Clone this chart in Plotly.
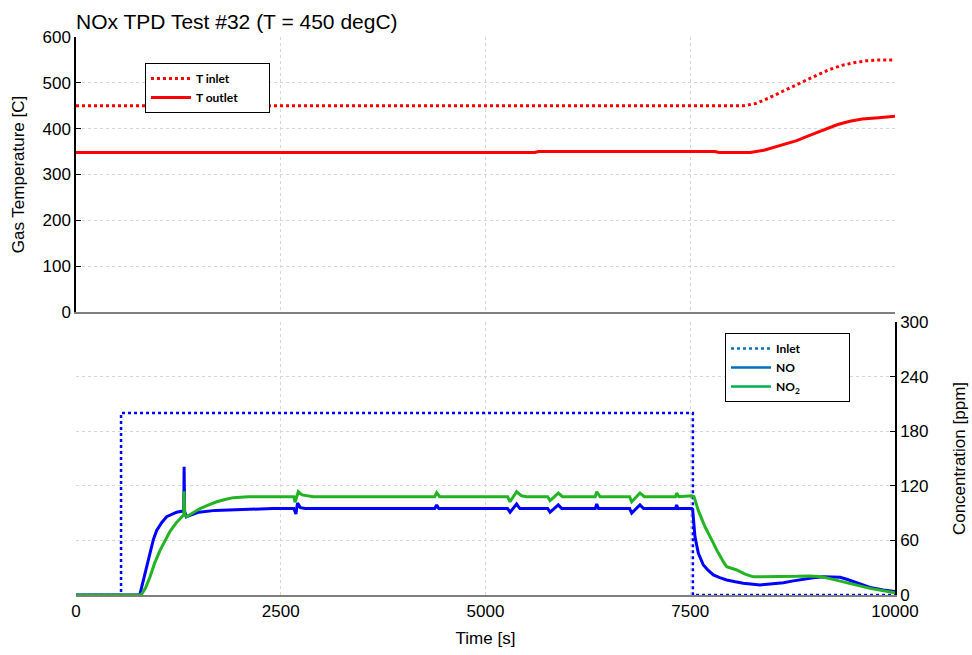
import plotly.graph_objects as go

# ---------------- data ----------------
t_inlet_time = [0, 8150, 8300, 8450, 8600, 8750, 8900, 9050, 9200, 9350, 9500, 9650, 9800, 10000]
t_inlet_vals = [450, 450, 455, 466, 479, 492, 504, 517, 529, 538, 544, 548, 550, 550]

t_outlet_time = [0, 5600, 5650, 7800, 7850, 8230, 8400, 8600, 8800, 8950, 9100, 9300, 9450, 9600, 9800, 10000]
t_outlet_vals = [348, 348, 350, 350, 348, 348, 353, 363, 374, 385, 396, 409, 416, 421, 424, 427]

inlet_time = [0, 550, 550, 7532, 7532, 10000]
inlet_vals = [0, 0, 200, 200, 0, 0]

no_time = [0, 760, 781, 822, 860, 904, 945, 985, 1050, 1107, 1170, 1229, 1290, 1316, 1320, 1326,
           1345, 1400, 1500, 1700, 2000, 2400, 2660, 2685, 2705, 2740, 2800, 3500, 4380, 4404,
           4430, 5000, 5270, 5300, 5380, 5420, 5760, 5788, 5889, 5930, 6340, 6358, 6380, 6760,
           6785, 6886, 6930, 7320, 7334, 7350, 7518, 7529, 7558, 7598, 7660, 7720, 7782, 7860,
           7945, 8050, 8148, 8352, 8500, 8637, 8760, 8881, 9000, 9125, 9230, 9329, 9420, 9491,
           9600, 9695, 9857, 10000]
no_vals = [0, 0, 1, 16, 33, 49, 61, 71, 80, 86, 89, 91, 92, 92, 141, 92,
           86, 88, 91, 93, 94, 95, 95, 89, 101, 96, 95, 95, 95, 99,
           95, 95, 95, 91, 100, 95, 95, 91, 99, 95, 95, 100, 95, 95,
           90, 99, 95, 95, 99, 95, 95, 94, 64, 46, 33, 27, 22, 19,
           16.5, 14.5, 13, 11, 12, 13.5, 15.5, 17.6, 19, 20, 20, 19.5, 17, 14.6,
           11, 8.4, 5.5, 3.7]

no2_time = [0, 780, 802, 850, 904, 960, 1026, 1090, 1148, 1230, 1290, 1316, 1320, 1326, 1351,
            1420, 1514, 1620, 1718, 1820, 1921, 2100, 2328, 2660, 2674, 2714, 2760, 2898, 3500,
            4380, 4404, 4440, 5000, 5270, 5299, 5380, 5440, 5503, 5760, 5788, 5889, 5940, 6340,
            6358, 6400, 6760, 6785, 6886, 6940, 7320, 7334, 7360, 7518, 7546, 7598, 7680, 7782,
            7823, 7904, 7945, 8067, 8170, 8270, 8450, 8637, 8800, 8962, 9100, 9206, 9330, 9451,
            9570, 9695, 9850, 10000]
no2_vals = [0, 0, 1, 8, 20, 35, 49, 60, 70, 80, 86, 88, 114, 88, 86,
            90, 95, 99, 102.5, 105, 107, 108, 108, 108, 102, 113.5, 110, 108, 108,
            108, 112.5, 108, 108, 108, 102.5, 113.5, 109, 108, 108, 103.6, 112, 108, 108,
            113.5, 108, 108, 102.5, 112, 108, 108, 112, 108, 109, 108, 93, 75, 57,
            49.5, 36.6, 31, 27.5, 23, 20, 20, 20, 20.5, 21, 20, 18, 15.5, 12.8,
            10, 7.3, 4.5, 2.5]

x_ticks = [0, 2500, 5000, 7500, 10000]
x_tick_text = ["0", "2500", "5000", "7500", "10000"]
temp_ticks = [0, 100, 200, 300, 400, 500, 600]
conc_ticks = [0, 60, 120, 180, 240, 300]

# ---------------- styles ----------------
FONT = "Liberation Sans, Arial, sans-serif"
RED = "#ff0000"
BLUE = "#0000ff"
GREEN = "#22b422"
GRID = "#d6d6d6"
PAD = "&nbsp;" * 9  # widen legend boxes like the reference

fig = go.Figure()

fig.add_trace(go.Scatter(x=t_inlet_time, y=t_inlet_vals, name="T inlet" + PAD, mode="lines",
                         line=dict(color=RED, width=3, dash="dot"),
                         xaxis="x", yaxis="y", legend="legend"))
fig.add_trace(go.Scatter(x=t_outlet_time, y=t_outlet_vals, name="T outlet" + PAD, mode="lines",
                         line=dict(color=RED, width=3),
                         xaxis="x", yaxis="y", legend="legend"))

fig.add_trace(go.Scatter(x=inlet_time, y=inlet_vals, name="Inlet", mode="lines",
                         line=dict(color=BLUE, width=2.5, dash="dot"),
                         xaxis="x2", yaxis="y2", showlegend=False))
fig.add_trace(go.Scatter(x=no_time, y=no_vals, name="NO", mode="lines",
                         line=dict(color=BLUE, width=3),
                         xaxis="x2", yaxis="y2", showlegend=False))
fig.add_trace(go.Scatter(x=no2_time, y=no2_vals, name="NO<sub>2</sub>", mode="lines",
                         line=dict(color=GREEN, width=3),
                         xaxis="x2", yaxis="y2", showlegend=False))

# legend entries for the lower panel (legend colours as in reference)
for nm, col, dsh in [("Inlet" + PAD + "&nbsp;" * 6, "#0070c0", "dot"),
                     ("NO", "#0070c0", "solid"),
                     ("NO<sub>2</sub>", "#00b050", "solid")]:
    fig.add_trace(go.Scatter(x=[None], y=[None], name=nm, mode="lines",
                             line=dict(color=col, width=2.5, dash=dsh),
                             xaxis="x2", yaxis="y2", legend="legend2"))

legend_common = dict(bgcolor="white", bordercolor="black", borderwidth=1,
                     font=dict(family="Lato, sans-serif", size=12, color="black", weight="bold"),
                     xanchor="left", yanchor="top", itemwidth=40, tracegroupgap=0,
                     itemclick=False, itemdoubleclick=False)

fig.update_layout(
    width=972, height=655,
    margin=dict(l=76, r=77, t=37, b=60, autoexpand=False),
    paper_bgcolor="white", plot_bgcolor="white",
    font=dict(family=FONT, size=17, color="black"),
    hovermode=False,
    title=dict(text="NOx TPD Test #32 (T = 450 degC)", font=dict(size=21, family=FONT, color="black"),
               xref="paper", x=0, xanchor="left", yref="container", y=1 - 22 / 655, yanchor="middle"),
    xaxis=dict(domain=[0, 1], anchor="y", range=[0, 10000], tickvals=x_ticks,
               showticklabels=False, ticks="", showgrid=True, gridcolor=GRID, griddash="dot",
               showline=True, linecolor="#7f7f7f", linewidth=2, zeroline=False, automargin=False),
    yaxis=dict(domain=[0.5072, 1], anchor="x", range=[0, 600], tickvals=temp_ticks,
               showgrid=True, gridcolor=GRID, griddash="dot", zeroline=False, automargin=False,
               showline=True, linecolor="black", linewidth=1.5, ticks="inside", ticklen=5,
               tickcolor="black", title=dict(text="Gas Temperature [C]", standoff=14,
                                             font=dict(size=17))),
    xaxis2=dict(domain=[0, 1], anchor="y2", range=[0, 10000], tickvals=x_ticks,
                ticktext=x_tick_text, automargin=False,
                ticks="", showgrid=True, gridcolor=GRID, griddash="dot",
                showline=True, linecolor="#7f7f7f", linewidth=2, zeroline=False,
                title=dict(text="Time [s]", font=dict(size=17), standoff=12)),
    yaxis2=dict(domain=[0, 0.4892], anchor="x2", side="right", range=[0, 300], tickvals=conc_ticks,
                showgrid=True, gridcolor=GRID, griddash="dot", zeroline=False, automargin=False,
                showline=True, linecolor="black", linewidth=1.5, ticks="inside", ticklen=5,
                tickcolor="black", title=dict(text="Concentration [ppm]", standoff=26,
                                              font=dict(size=17))),
    legend=dict(x=0.0842, y=0.9534, **legend_common),
    legend2=dict(x=0.7924, y=0.4695, **legend_common),
)

fig.write_html("out.html")
